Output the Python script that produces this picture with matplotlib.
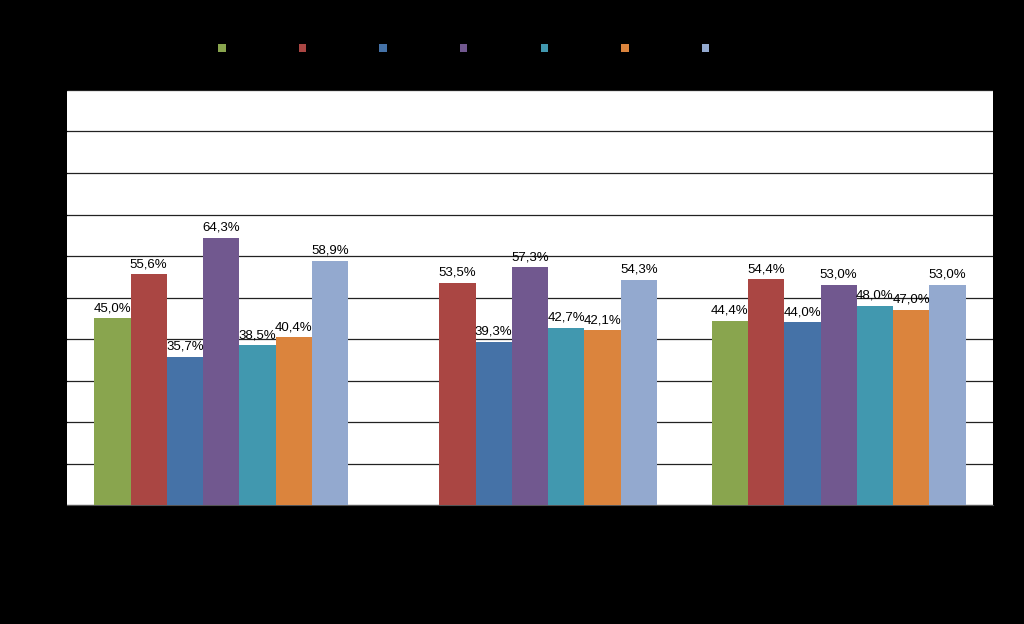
import matplotlib
matplotlib.use("Agg")
import matplotlib.pyplot as plt
import numpy as np

plt.rcParams['font.family'] = ['Liberation Sans', 'DejaVu Sans']

categories = ["Grupo 1", "Grupo 2", "Grupo 3"]
series_names = ["Serie 1", "Serie 2", "Serie 3", "Serie 4", "Serie 5", "Serie 6", "Serie 7"]
values = [
    [45.0, np.nan, 44.4],
    [55.6, 53.5, 54.4],
    [35.7, 39.3, 44.0],
    [64.3, 57.3, 53.0],
    [38.5, 42.7, 48.0],
    [40.4, 42.1, 47.0],
    [58.9, 54.3, 53.0],
]
colors = ["#89A54E", "#AA4643", "#4572A7", "#71588F", "#4198AF", "#DB843D", "#93A9CF"]

fig = plt.figure(figsize=(10.24, 6.24), dpi=100, facecolor="black")
ax = fig.add_axes([67/1024, (624-505)/624, (993-67)/1024, (505-90)/624])
ax.set_facecolor("white")

n = len(series_names)
gap = 1.5
bw = 1.0 / (n + gap)
x = np.arange(len(categories))
handles = []
for i, (name, vals, c) in enumerate(zip(series_names, values, colors)):
    pos = x - 0.5 + bw * gap / 2 + bw * (i + 0.5)
    v = np.array(vals, dtype=float)
    b = ax.bar(pos, np.nan_to_num(v), width=bw, color=c, label=name, zorder=3)
    handles.append(b)
    for p, val in zip(pos, v):
        if np.isnan(val):
            continue
        ax.annotate(f"{val:.1f}%".replace(".", ","), (p, val), xytext=(0, 3),
                    textcoords="offset points", ha="center", va="bottom",
                    fontsize=9.5, color="black", zorder=4)

ax.set_xlim(-0.5, len(categories) - 0.5)
ax.set_ylim(0, 100)
ax.set_yticks(np.arange(0, 101, 10))
ax.set_yticklabels([f"{t}%" for t in range(0, 101, 10)], color="black", fontsize=9)
ax.set_xticks(x)
ax.set_xticklabels(categories, color="black", fontsize=9)
ax.tick_params(axis="x", length=0)
ax.tick_params(axis="y", length=4, color="black")
ax.grid(axis="y", color="#222222", linewidth=0.9, zorder=0)
for s in ["top", "right", "left"]:
    ax.spines[s].set_visible(False)
ax.spines["bottom"].set_color("#555555")

leg = fig.legend(handles=handles, labels=series_names, loc="center",
                 bbox_to_anchor=(486/1024, 1 - 49/624), ncol=7, frameon=False,
                 fontsize=9, handlelength=0.6, handleheight=0.6, columnspacing=2.27,
                 handletextpad=0.4)
for t in leg.get_texts():
    t.set_color("black")

fig.savefig("out.png", dpi=100, facecolor="black")
